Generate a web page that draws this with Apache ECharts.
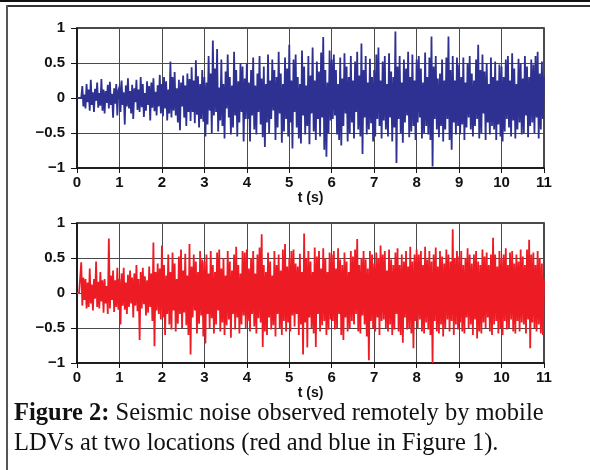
<!DOCTYPE html>
<html><head><meta charset="utf-8">
<script src="https://cdn.jsdelivr.net/npm/echarts@6/dist/echarts.min.js"></script>
<style>html,body{margin:0;padding:0;background:#fff}#c{width:590px;height:470px}</style>
</head><body><div id="c"></div>
<script>
// sampling step of both records (s)
const dt = 0.025;
const xTicks = [0,1,2,3,4,5,6,7,8,9,10,11];
const yTicks = [-1,-0.5,0,0.5,1];
const xName = 't (s)';
const captionBold = 'Figure 2:';
const captionLine1 = ' Seismic noise observed remotely by mobile';
const captionLine2 = 'LDVs at two locations (red and blue in Figure 1).';

// upper record (blue), one value per dt starting at t = 0
const blueValues = [
0,0,0,0,0, 0.17,-0.12,0.05,-0.15,0.2, -0.06,0.12,-0.18,0.26,-0.1, 0.08,-0.2,0.13,-0.04,0.22, -0.14,0.07,-0.11,0.27,-0.18, 0.12,-0.22,0.1,-0.07,0.19, -0.15,0.23,-0.1,0.06,-0.28, 0.14,-0.08,0.2,-0.25,0.11,
0.16,-0.2,0.25,-0.1,0.08,-0.38,0.18,-0.12,0.28,-0.15, 0.1,-0.22,0.19,-0.3,0.14,-0.06,0.26,-0.17,0.12,-0.2, 0.3,-0.13,0.2,-0.27,0.07,-0.18,0.24,-0.1,0.17,-0.32, 0.22,-0.14,0.28,-0.19,0.09,-0.25,0.18,-0.12,0.33,-0.22,
0.2,-0.26,0.3,-0.15,0.24,-0.32,0.12,-0.22,0.52,-0.28, 0.3,-0.18,0.37,-0.25,0.14,-0.35,0.26,-0.46,0.22,-0.12, 0.32,-0.28,0.18,-0.4,0.35,-0.2,0.27,-0.33,0.44,-0.2, 0.25,-0.36,0.54,-0.24,0.31,-0.42,0.2,-0.3,0.4,-0.34,
0.3,-0.55,0.22,-0.38,0.6,-0.18,0.35,-0.5,0.82,-0.25, 0.42,-0.2,0.7,-0.48,0.15,-0.32,0.55,-0.4,0.2,-0.58, 0.38,-0.15,0.62,-0.28,0.3,-0.52,0.18,-0.42,0.66,-0.25, 0.4,-0.55,0.24,-0.35,0.5,-0.2,0.45,-0.62,0.28,-0.3,
0.5,-0.3,0.22,-0.62,0.4,-0.25,0.58,-0.45,0.18,-0.52, 0.35,-0.2,0.6,-0.38,0.28,-0.56,0.45,-0.7,0.2,-0.35, 0.62,-0.5,0.25,-0.3,0.55,-0.18,0.4,-0.6,0.3,-0.42, 0.66,-0.22,0.35,-0.64,0.2,-0.48,0.58,-0.3,0.42,-0.55,
0.76,-0.35,0.25,-0.72,0.55,-0.2,0.62,-0.42,0.3,-0.58, 0.2,-0.65,0.68,-0.25,0.45,-0.52,0.18,-0.4,0.6,-0.66, 0.32,-0.22,0.72,-0.48,0.25,-0.6,0.52,-0.3,0.38,-0.55, 0.65,-0.28,0.87,-0.74,0.4,-0.84,0.22,-0.5,0.68,-0.32,
0.55,-0.3,0.62,-0.25,0.4,-0.52,0.2,-0.6,0.58,-0.68, 0.28,-0.4,0.64,-0.22,0.45,-0.62,0.3,-0.5,0.6,-0.35, 0.25,-0.58,0.52,-0.2,0.66,-0.45,0.32,-0.55,0.78,-0.8, 0.4,-0.28,0.6,-0.52,0.22,-0.45,0.56,-0.36,0.3,-0.62,
0.4,-0.55,0.62,-0.3,0.72,-0.4,0.25,-0.58,0.52,-0.32, 0.6,-0.45,0.2,-0.55,0.64,-0.28,0.38,-0.62,0.3,-0.42, 0.95,-0.93,0.45,-0.3,0.6,-0.5,0.22,-0.64,0.55,-0.35, 0.42,-0.25,0.66,-0.56,0.3,-0.48,0.62,-0.4,0.25,-0.6,
0.55,-0.35,0.6,-0.28,0.42,-0.58,0.22,-0.5,0.65,-0.4, 0.3,-0.52,0.58,-0.6,0.88,-0.98,0.45,-0.3,0.6,-0.45, 0.28,-0.56,0.35,-0.4,0.55,-0.62,0.25,-0.45,0.58,-0.3, 0.88,-0.6,0.4,-0.74,0.6,-0.35,0.25,-0.52,0.58,-0.4,
0.48,-0.52,0.3,-0.38,0.58,-0.6,0.22,-0.42,0.5,-0.28, 0.6,-0.45,0.35,-0.55,0.25,-0.4,0.55,-0.3,0.76,-0.58, 0.4,-0.5,0.62,-0.22,0.38,-0.6,0.5,-0.35,0.2,-0.52, 0.58,-0.4,0.3,-0.45,0.52,-0.6,0.25,-0.38,0.48,-0.55,
0.45,-0.62,0.3,-0.48,0.55,-0.3,0.6,-0.42,0.25,-0.55, 0.64,-0.32,0.42,-0.58,0.2,-0.45,0.56,-0.35,0.5,-0.52, 0.28,-0.5,0.6,-0.25,0.45,-0.56,0.3,-0.4,0.55,-0.35, 0.48,-0.5,0.6,-0.28,0.66,-0.58,0.35,-0.45,0.52,-0.3,
0.3
];

// lower record (red), one value per dt starting at t = 0
const redValues = [
0,0,0,0,0.44, -0.18,0.22,-0.1,0.2,-0.22, 0.15,-0.2,0.35,-0.15,0.12,-0.25,0.2,-0.08,0.45,-0.2, 0.16,-0.22,0.3,-0.12,0.18,-0.28,0.2,-0.15,0.1,-0.3, 0.78,-0.22,0.25,-0.1,0.32,-0.27,0.18,-0.2,0.36,-0.24,
0.2,-0.45,0.28,-0.18,0.36,-0.24,0.15,-0.3,0.26,-0.2, 0.32,-0.15,0.22,-0.35,0.28,-0.18,0.4,-0.26,0.2,-0.67, 0.3,-0.22,0.36,-0.16,0.24,-0.32,0.18,-0.28,0.38,-0.2, 0.28,-0.4,0.72,-0.76,0.3,-0.25,0.42,-0.3,0.35,-0.38,
0.68,-0.35,0.4,-0.6,0.25,-0.3,0.55,-0.45,0.3,-0.52, 0.58,-0.25,0.42,-0.55,0.2,-0.44,0.52,-0.3,0.62,-0.5, 0.32,-0.28,0.56,-0.46,0.25,-0.6,0.7,-0.88,0.38,-0.35, 0.55,-0.25,0.45,-0.58,0.3,-0.44,0.6,-0.32,0.48,-0.62,
0.45,-0.72,0.55,-0.3,0.28,-0.5,0.6,-0.36,0.4,-0.58, 0.3,-0.45,0.58,-0.25,0.62,-0.55,0.35,-0.42,0.5,-0.6, 0.25,-0.46,0.6,-0.38,0.45,-0.64,0.32,-0.3,0.55,-0.52, 0.66,-0.35,0.4,-0.58,0.28,-0.45,0.6,-0.32,0.58,-0.5,
0.62,-0.4,0.35,-0.55,0.5,-0.3,0.6,-0.48,0.28,-0.58, 0.55,-0.36,0.65,-0.42,0.84,-0.77,0.4,-0.55,0.3,-0.6, 0.58,-0.35,0.45,-0.52,0.25,-0.46,0.6,-0.62,0.4,-0.3, 0.55,-0.5,0.32,-0.6,0.62,-0.4,0.7,-0.55,0.38,-0.42,
0.5,-0.55,0.6,-0.32,0.62,-0.48,0.42,-0.3,0.38,-0.6, 0.56,-0.45,0.3,-0.88,0.85,-0.42,0.5,-0.78,0.6,-0.35, 0.45,-0.5,0.3,-0.58,0.65,-0.77,0.52,-0.3,0.6,-0.55, 0.35,-0.46,0.64,-0.4,0.5,-0.6,0.3,-0.52,0.58,-0.38,
0.55,-0.4,0.6,-0.52,0.35,-0.5,0.64,-0.3,0.48,-0.6, 0.4,-0.67,0.58,-0.35,0.45,-0.55,0.3,-0.5,0.6,-0.4, 0.52,-0.45,0.62,-0.3,0.77,-0.55,0.4,-0.58,0.5,-0.32, 0.6,-0.45,0.48,-0.62,0.35,-0.96,0.6,-0.4,0.55,-0.5,
0.42,-0.55,0.58,-0.35,0.5,-0.6,0.68,-0.4,0.55,-0.38, 0.6,-0.5,0.32,-0.55,0.62,-0.45,0.48,-0.6,0.4,-0.52, 0.58,-0.3,0.64,-0.55,0.4,-0.6,0.55,-0.71,0.45,-0.35, 0.6,-0.52,0.38,-0.5,0.66,-0.58,0.45,-0.79,0.55,-0.4,
0.62,-0.5,0.55,-0.38,0.6,-0.55,0.4,-0.58,0.66,-0.42, 0.48,-0.52,0.6,-0.6,0.45,-1.0,0.55,-0.4,0.65,-0.55, 0.38,-0.58,0.6,-0.45,0.52,-0.62,0.42,-0.5,0.62,-0.38, 0.55,-0.55,0.45,-0.4,0.91,-0.6,0.5,-0.45,0.6,-0.52,
0.52,-0.42,0.6,-0.55,0.4,-0.58,0.5,-0.35,0.64,-0.5, 0.55,-0.45,0.42,-0.6,0.55,-0.38,0.6,-0.65,0.45,-0.55, 0.4,-0.58,0.62,-0.42,0.52,-0.5,0.58,-0.35,0.4,-0.55, 0.55,-0.6,0.79,-0.45,0.55,-0.4,0.38,-0.58,0.6,-0.5,
0.5,-0.6,0.55,-0.4,0.64,-0.52,0.4,-0.5,0.58,-0.38, 0.6,-0.55,0.42,-0.58,0.55,-0.4,0.45,-0.55,0.62,-0.42, 0.52,-0.45,0.4,-0.58,0.62,-0.38,0.76,-0.79,0.55,-0.42, 0.58,-0.5,0.4,-0.55,0.6,-0.45,0.5,-0.58,0.42,-0.6,
0.2
];

const toPairs = vals => vals.map((v, i) => [+(i * dt).toFixed(3), v]);

const labelFont = { fontFamily: 'Liberation Sans', fontWeight: 'bold', fontSize: 15, color: '#111' };

function xAxisFor(gi) {
  return {
    gridIndex: gi, type: 'value', min: xTicks[0], max: xTicks[xTicks.length - 1], interval: 1,
    name: xName, nameLocation: 'middle', nameGap: 22,
    nameTextStyle: Object.assign({}, labelFont, { fontSize: 14 }),
    axisLine: { show: true, onZero: false, lineStyle: { color: '#111', width: 1.5 } },
    axisTick: { show: true, inside: false, length: 5, lineStyle: { color: '#111', width: 1 } },
    axisLabel: Object.assign({ margin: 7, showMinLabel: true, showMaxLabel: true }, labelFont),
    splitLine: { show: true, lineStyle: { color: '#4a4a4a', width: 1 } }
  };
}
function yAxisFor(gi) {
  return {
    gridIndex: gi, type: 'value', min: yTicks[0], max: yTicks[yTicks.length - 1], interval: 0.5,
    axisLine: { show: true, lineStyle: { color: '#111', width: 1.5 } },
    axisTick: { show: true, inside: false, length: 6, lineStyle: { color: '#111', width: 1 } },
    axisLabel: Object.assign({ margin: 12, formatter: v => String(v).replace('-', '\u2212') }, labelFont),
    splitLine: { show: true, lineStyle: { color: '#4a4a4a', width: 1 } }
  };
}

const chart = echarts.init(document.getElementById('c'), null, { renderer: 'canvas' });
chart.setOption({
  animation: false,
  backgroundColor: '#fff',
  grid: [
    { left: 77, top: 28, width: 467, height: 140, show: true, borderColor: '#111', borderWidth: 1.5, backgroundColor: 'transparent' },
    { left: 77, top: 223, width: 467, height: 140, show: true, borderColor: '#111', borderWidth: 1.5, backgroundColor: 'transparent' }
  ],
  xAxis: [xAxisFor(0), xAxisFor(1)],
  yAxis: [yAxisFor(0), yAxisFor(1)],
  series: [
    { type: 'line', xAxisIndex: 0, yAxisIndex: 0, data: toPairs(blueValues), showSymbol: false, symbol: 'none',
      lineStyle: { color: '#2E3192', width: 1.8, join: 'miter' }, z: 3 },
    { type: 'line', xAxisIndex: 1, yAxisIndex: 1, data: toPairs(redValues), showSymbol: false, symbol: 'none',
      lineStyle: { color: '#ED1C24', width: 1.8, join: 'miter' }, z: 3 }
  ],
  graphic: [
    { type: 'rect', shape: { x: 0, y: 0, width: 590, height: 2 }, style: { fill: '#111' }, silent: true },
    { type: 'rect', shape: { x: 6, y: 5, width: 584, height: 2 }, style: { fill: '#333' }, silent: true },
    { type: 'rect', shape: { x: 6, y: 5, width: 2, height: 465 }, style: { fill: '#555' }, silent: true },
    { type: 'text', left: 14, top: 401, style: {
        text: '{b|' + captionBold + '}' + captionLine1,
        font: '24.5px "Liberation Serif"', fill: '#111',
        rich: { b: { fontFamily: 'Liberation Serif', fontWeight: 'bold', fontSize: 24.5, fill: '#111' } } } },
    { type: 'text', left: 14, top: 431, style: {
        text: captionLine2, font: '24.5px "Liberation Serif"', fill: '#111' } }
  ]
});
</script>
</body></html>
